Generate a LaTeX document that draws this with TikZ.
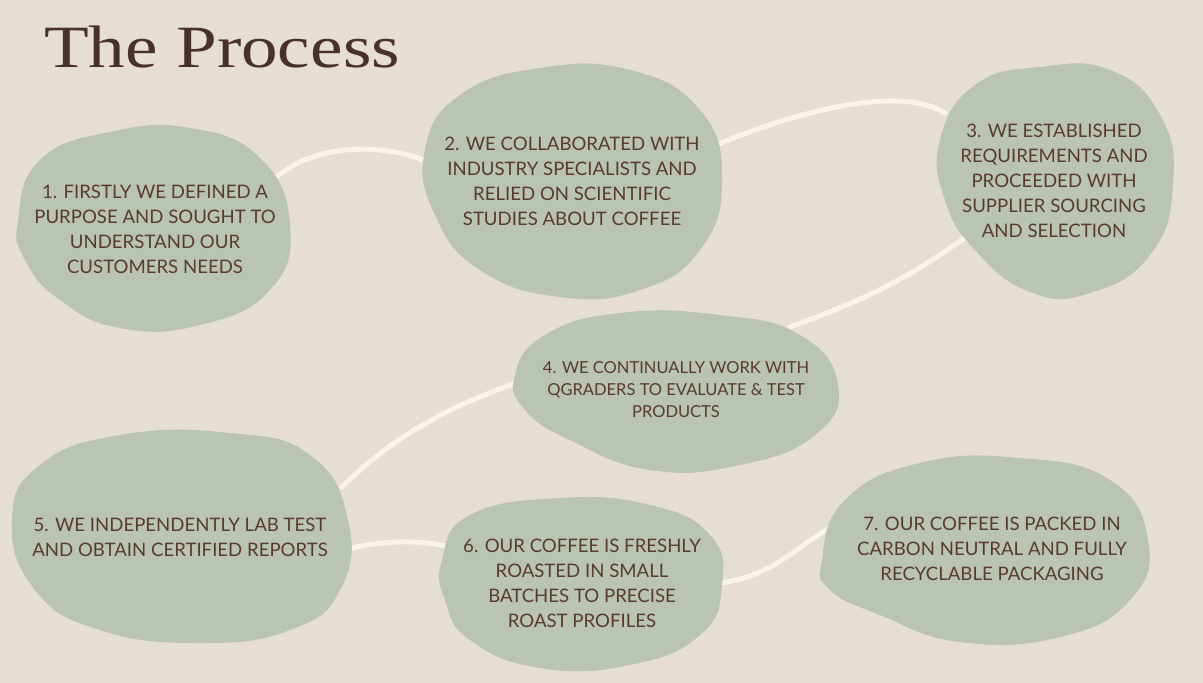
\documentclass[tikz,border=0pt]{standalone}
\usepackage{fontspec}
\setmainfont{Lato}
\newfontfamily\titlefont{Liberation Serif}
\definecolor{bg}{HTML}{E6DDD3}
\definecolor{blobc}{HTML}{B9C4B1}
\definecolor{txt}{HTML}{5A3A2E}
\definecolor{ttl}{HTML}{4A3128}
\definecolor{path}{HTML}{FBF2EA}
\begin{document}
\begin{tikzpicture}[x=1pt,y=-1pt,
  blob/.style={fill=blobc,draw=none},
  lbl/.style={text=txt,align=center,font=\fontsize{18.6}{25}\selectfont,inner sep=0},
  link/.style={draw=path,line width=5pt,line cap=round}]
\useasboundingbox (0,0) rectangle (1203,683);
\fill[bg] (0,0) rectangle (1203,683);
\node[anchor=west,text=ttl,font=\titlefont\fontsize{60}{62}\selectfont,inner sep=0] (title) at (44,47) {\scalebox{1.22}[1]{The Process}};
% links
\coordinate (a1) at (275,178); \coordinate (b1) at (428,162);
\coordinate (a2) at (716,145); \coordinate (b2) at (945,113);
\coordinate (a3) at (967,236); \coordinate (b3) at (790,327);
\coordinate (a4) at (516,383); \coordinate (b4) at (342,487);
\coordinate (a5) at (345,550); \coordinate (b5) at (446,546);
\coordinate (a6) at (720,583); \coordinate (b6) at (842,522);
\draw[link] (a1) .. controls (320,140) and (390,145) .. (b1);
\draw[link] (a2) .. controls (800,110) and (900,85) .. (b2);
\draw[link] (a3) .. controls (900,285) and (850,305) .. (b3);
\draw[link] (a4) .. controls (440,410) and (390,440) .. (b4);
\draw[link] (a5) .. controls (380,540) and (420,540) .. (b5);
\draw[link] (a6) .. controls (780,575) and (800,540) .. (b6);
% blobs
\fill[blob] plot[smooth cycle,tension=0.8] coordinates {(18,220)(40,160)(110,132)(190,128)(260,158)(290,225)(270,290)(200,325)(120,328)(60,300)(25,260)};
\fill[blob] plot[smooth cycle,tension=0.8] coordinates {(425,150)(460,95)(540,68)(630,70)(700,110)(722,180)(700,250)(640,290)(560,297)(480,270)(435,215)};
\fill[blob] plot[smooth cycle,tension=0.8] coordinates {(940,140)(975,85)(1040,67)(1110,70)(1160,115)(1173,185)(1150,255)(1090,293)(1030,292)(975,250)(945,200)};
\fill[blob] plot[smooth cycle,tension=0.8] coordinates {(515,375)(545,335)(620,313)(720,315)(800,335)(838,385)(815,435)(740,465)(650,470)(570,440)(525,410)};
\fill[blob] plot[smooth cycle,tension=0.8] coordinates {(12,520)(40,465)(120,435)(230,433)(310,455)(348,520)(340,590)(290,630)(200,643)(100,630)(35,590)};
\fill[blob] plot[smooth cycle,tension=0.8] coordinates {(442,560)(470,515)(560,498)(650,505)(710,535)(722,585)(700,635)(630,665)(540,668)(470,640)(445,600)};
\fill[blob] plot[smooth cycle,tension=0.8] coordinates {(822,560)(845,500)(920,463)(1020,458)(1110,480)(1148,540)(1130,600)(1060,637)(960,642)(880,615)(830,590)};
% labels
\node[lbl] (n1) at (155,229) {1. FIRSTLY WE DEFINED A\\PURPOSE AND SOUGHT TO\\UNDERSTAND OUR\\CUSTOMERS NEEDS};
\node[lbl] (n2) at (572,181) {2. WE COLLABORATED WITH\\INDUSTRY SPECIALISTS AND\\RELIED ON SCIENTIFIC\\STUDIES ABOUT COFFEE};
\node[lbl] (n3) at (1054,181) {3. WE ESTABLISHED\\REQUIREMENTS AND\\PROCEEDED WITH\\SUPPLIER SOURCING\\AND SELECTION};
\node[lbl,font=\fontsize{16.5}{22}\selectfont] (n4) at (676,390) {4. WE CONTINUALLY WORK WITH\\QGRADERS TO EVALUATE \& TEST\\PRODUCTS};
\node[lbl] (n5) at (180,537) {5. WE INDEPENDENTLY LAB TEST\\AND OBTAIN CERTIFIED REPORTS};
\node[lbl] (n6) at (582,583) {6. OUR COFFEE IS FRESHLY\\ROASTED IN SMALL\\BATCHES TO PRECISE\\ROAST PROFILES};
\node[lbl] (n7) at (992,549) {7. OUR COFFEE IS PACKED IN\\CARBON NEUTRAL AND FULLY\\RECYCLABLE PACKAGING};
\end{tikzpicture}
\end{document}
